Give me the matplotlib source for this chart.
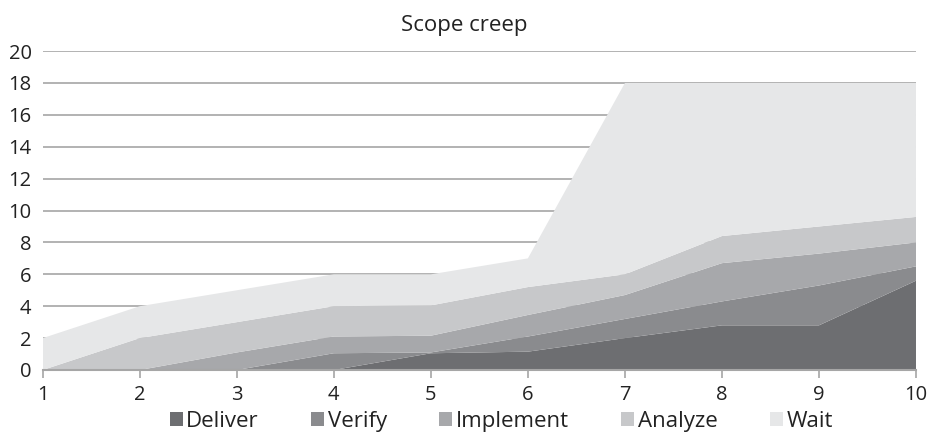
import numpy as np
import matplotlib.pyplot as plt

plt.rcParams['font.family'] = ['Open Sans', 'DejaVu Sans']

# weeks on the x axis
weeks = [1, 2, 3, 4, 5, 6, 7, 8, 9, 10]

# stacked amounts per stage
deliver   = [0, 0, 0,   0,   1.05, 1.15, 2.0, 2.8, 2.8, 5.6]
verify    = [0, 0, 0,   1.05, 0.05, 0.95, 1.2, 1.5, 2.5, 0.9]
implement = [0, 0, 1.1, 1.05, 1.05, 1.35, 1.5, 2.4, 2.0, 1.5]
analyze   = [0, 2, 1.9, 1.9, 1.9, 1.75, 1.3, 1.7, 1.7, 1.6]
wait      = [2, 2, 2,   2,   1.95, 1.8, 12.0, 9.6, 9.0, 8.4]

labels = ['Deliver', 'Verify', 'Implement', 'Analyze', 'Wait']
colors = ['#6d6e71', '#8a8b8e', '#a7a8ab', '#c7c8ca', '#e6e7e8']

fig = plt.figure(figsize=(9.29, 4.33), dpi=100)
ax = fig.add_axes([0.046, 0.1455, 0.94, 0.7365])

ax.stackplot(weeks, deliver, verify, implement, analyze, wait,
             colors=colors, labels=labels, linewidth=0, zorder=2)

ax.set_xlim(1, 10)
ax.set_ylim(0, 20)
ax.set_xticks(weeks)
ax.set_yticks(np.arange(0, 21, 2))
ax.yaxis.grid(True, color='#a6a6a6', lw=1.2, zorder=1)
ax.set_axisbelow(True)

for s in ['top', 'right', 'left']:
    ax.spines[s].set_visible(False)
ax.spines['bottom'].set_color('#a6a6a6')
ax.spines['bottom'].set_linewidth(1.5)
ax.tick_params(axis='y', length=0, labelsize=14.5, colors='#222222', pad=8)
ax.tick_params(axis='x', length=6, width=1.2, color='#a6a6a6', direction='out',
               labelsize=14.5, labelcolor='#222222', pad=5)

fig.text(0.5, 0.942, 'Scope creep', ha='center', va='center', fontsize=16, color='#222222')

ax.legend(loc='center', bbox_to_anchor=(0.525, -0.16), ncol=5, frameon=False,
          fontsize=16, handlelength=0.6, handleheight=0.6, handletextpad=0.15,
          columnspacing=2.35, labelcolor='#222222', borderpad=0.2)

fig.savefig('out.png', dpi=100)
